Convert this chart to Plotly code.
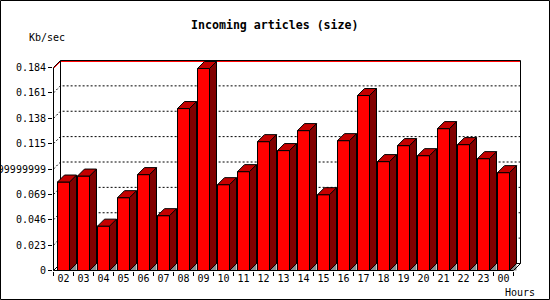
import plotly.graph_objects as go

# ---------------- data ----------------
hours = ["02", "03", "04", "05", "06", "07", "08", "09", "10", "11", "12", "13",
         "14", "15", "16", "17", "18", "19", "20", "21", "22", "23", "00"]
values = [0.0802, 0.0856, 0.0402, 0.0660, 0.0869, 0.0497, 0.1468, 0.1831,
          0.0778, 0.0896, 0.1168, 0.1087, 0.1268, 0.0687, 0.1177, 0.1586,
          0.0987, 0.1132, 0.1041, 0.1286, 0.1141, 0.1014, 0.0887]
ytick_vals = [0, 0.023, 0.046, 0.069, 0.092, 0.115, 0.138, 0.161, 0.184]
ytick_text = ["0", "0.023", "0.046", "0.069", "0.09199999999",
              "0.115", "0.138", "0.161", "0.184"]
title_text = "Incoming articles (size)"
y_label = "Kb/sec"
x_label = "Hours"

# ---------------- geometry ----------------
W, H = 550, 300
L, R, T, B = 53, 29, 60, 29
X_PX = 20.0       # pixels per category
Y_PX = 1103.3     # pixels per unit of value
x0_px = L + 0.5
y0_px = H - B - 0.5
x_lo = (L - x0_px) / X_PX
x_hi = (W - R - x0_px) / X_PX
y_lo = (y0_px - (H - B)) / Y_PX
y_hi = (y0_px - T) / Y_PX
DX = 7 / X_PX
DY = 7 / Y_PX
ONE_Y = 1 / Y_PX
n = len(hours)
x_end = n + DX
top = ytick_vals[-1]
BAR_L, BAR_R = 0.2, 0.8

FONT = "DejaVu Sans Mono"


def px_to_paper(px, py):
    return (px - L) / (W - L - R), ((H - B) - py) / (H - T - B)


def path(pts):
    return "M " + " L ".join(f"{x},{y}" for x, y in pts)


shapes = []
# gridlines (dotted, on back wall)
for t in ytick_vals[1:-1]:
    shapes.append(dict(type="path", xref="x", yref="y", layer="below",
                       path=path([(0, t), (DX, t + DY), (x_end, t + DY)]),
                       line=dict(color="black", width=1, dash="2px,2px")))
# red top gridline
shapes.append(dict(type="path", xref="x", yref="y", layer="below",
                   path=path([(0, top - ONE_Y), (DX, top + DY - ONE_Y), (x_end, top + DY - ONE_Y)]),
                   line=dict(color="#FF0000", width=1)))
# back frame
back_lines = [
    [(0, top), (DX, top + DY), (x_end, top + DY)],
    [(DX, DY), (DX, top + DY)],
    [(x_end, DY), (x_end, top + DY)],
    [(0, 0), (DX, DY), (x_end, DY)],
]
for pts in back_lines:
    shapes.append(dict(type="path", xref="x", yref="y", layer="below",
                       path=path(pts), line=dict(color="black", width=1)))
# front frame
front_lines = [
    [(0, top), (0, 0), (n, 0), (x_end, DY)],
]
for pts in front_lines:
    shapes.append(dict(type="path", xref="x", yref="y", layer="above",
                       path=path(pts), line=dict(color="black", width=1)))
# outer border
bx0, by0 = px_to_paper(0.5, 0.5)
bx1, by1 = px_to_paper(549.5, 299.5)
shapes.append(dict(type="rect", xref="paper", yref="paper",
                   x0=bx0, y0=by0, x1=bx1, y1=by1,
                   line=dict(color="black", width=1)))

# ---------------- traces ----------------
fig = go.Figure()
fig.add_trace(go.Bar(
    x=[i + 0.5 for i in range(n)], y=values, width=BAR_R - BAR_L,
    marker=dict(color="#FF0000", line=dict(color="black", width=1)),
    hoverinfo="skip", showlegend=False))

shx, shy, sx, sy, tx, ty = [], [], [], [], [], []
for i, v in enumerate(values):
    xl, xr = i + BAR_L, i + BAR_R
    shx += [xr, xr + DX, xr + DX, xr, None]
    shy += [0, 0, DY, 0, None]
    sx += [xr, xr + DX, xr + DX, xr, xr, None]
    sy += [0, DY, v + DY, v, 0, None]
    tx += [xl, xl + DX, xr + DX, xr, xl, None]
    ty += [v, v + DY, v + DY, v, v, None]

fig.add_trace(go.Scatter(x=shx, y=shy, mode="lines", fill="toself",
                         fillcolor="#8C8C8C", line=dict(width=0, color="#8C8C8C"),
                         hoverinfo="skip", showlegend=False))
fig.add_trace(go.Scatter(x=sx, y=sy, mode="lines", fill="toself",
                         fillcolor="#800000", line=dict(width=1, color="black"),
                         hoverinfo="skip", showlegend=False))
fig.add_trace(go.Scatter(x=tx, y=ty, mode="lines", fill="toself",
                         fillcolor="#C40000", line=dict(width=1, color="black"),
                         hoverinfo="skip", showlegend=False))

# ---------------- annotations ----------------
annotations = []
ax, ay = px_to_paper(274.5, 25)
annotations.append(dict(text="<b>" + title_text + "</b>", x=ax, y=ay, xref="paper", yref="paper",
                        showarrow=False, xanchor="center", yanchor="middle",
                        font=dict(family=FONT, size=11.6, color="black")))
ax, ay = px_to_paper(47, 37)
annotations.append(dict(text=y_label, x=ax, y=ay, xref="paper", yref="paper",
                        showarrow=False, xanchor="center", yanchor="middle",
                        font=dict(family=FONT, size=10, color="black")))
ax, ay = px_to_paper(519.5, 292)
annotations.append(dict(text=x_label, x=ax, y=ay, xref="paper", yref="paper",
                        showarrow=False, xanchor="center", yanchor="middle",
                        font=dict(family=FONT, size=10, color="black")))

fig.update_layout(
    width=W, height=H,
    margin=dict(l=L, r=R, t=T, b=B, pad=0, autoexpand=False),
    paper_bgcolor="white", plot_bgcolor="white",
    showlegend=False, barmode="overlay",
    shapes=shapes, annotations=annotations,
    xaxis=dict(range=[x_lo, x_hi], showgrid=False, zeroline=False, showline=False,
               automargin=False,
               tickmode="array", tickvals=[i + 0.5 for i in range(n)], ticktext=hours,
               ticks="", tickfont=dict(family=FONT, size=10, color="black"),
               minor=dict(tickmode="linear", tick0=0, dtick=1, ticks="outside",
                          ticklen=4, tickwidth=1, tickcolor="black", showgrid=False),
               fixedrange=True),
    yaxis=dict(range=[y_lo, y_hi], showgrid=False, zeroline=False, showline=False,
               automargin=False,
               tickmode="array", tickvals=ytick_vals, ticktext=ytick_text,
               ticks="outside", ticklen=4, tickwidth=1, tickcolor="black",
               tickfont=dict(family=FONT, size=10, color="black"),
               fixedrange=True),
)

fig.write_html("out.html")
